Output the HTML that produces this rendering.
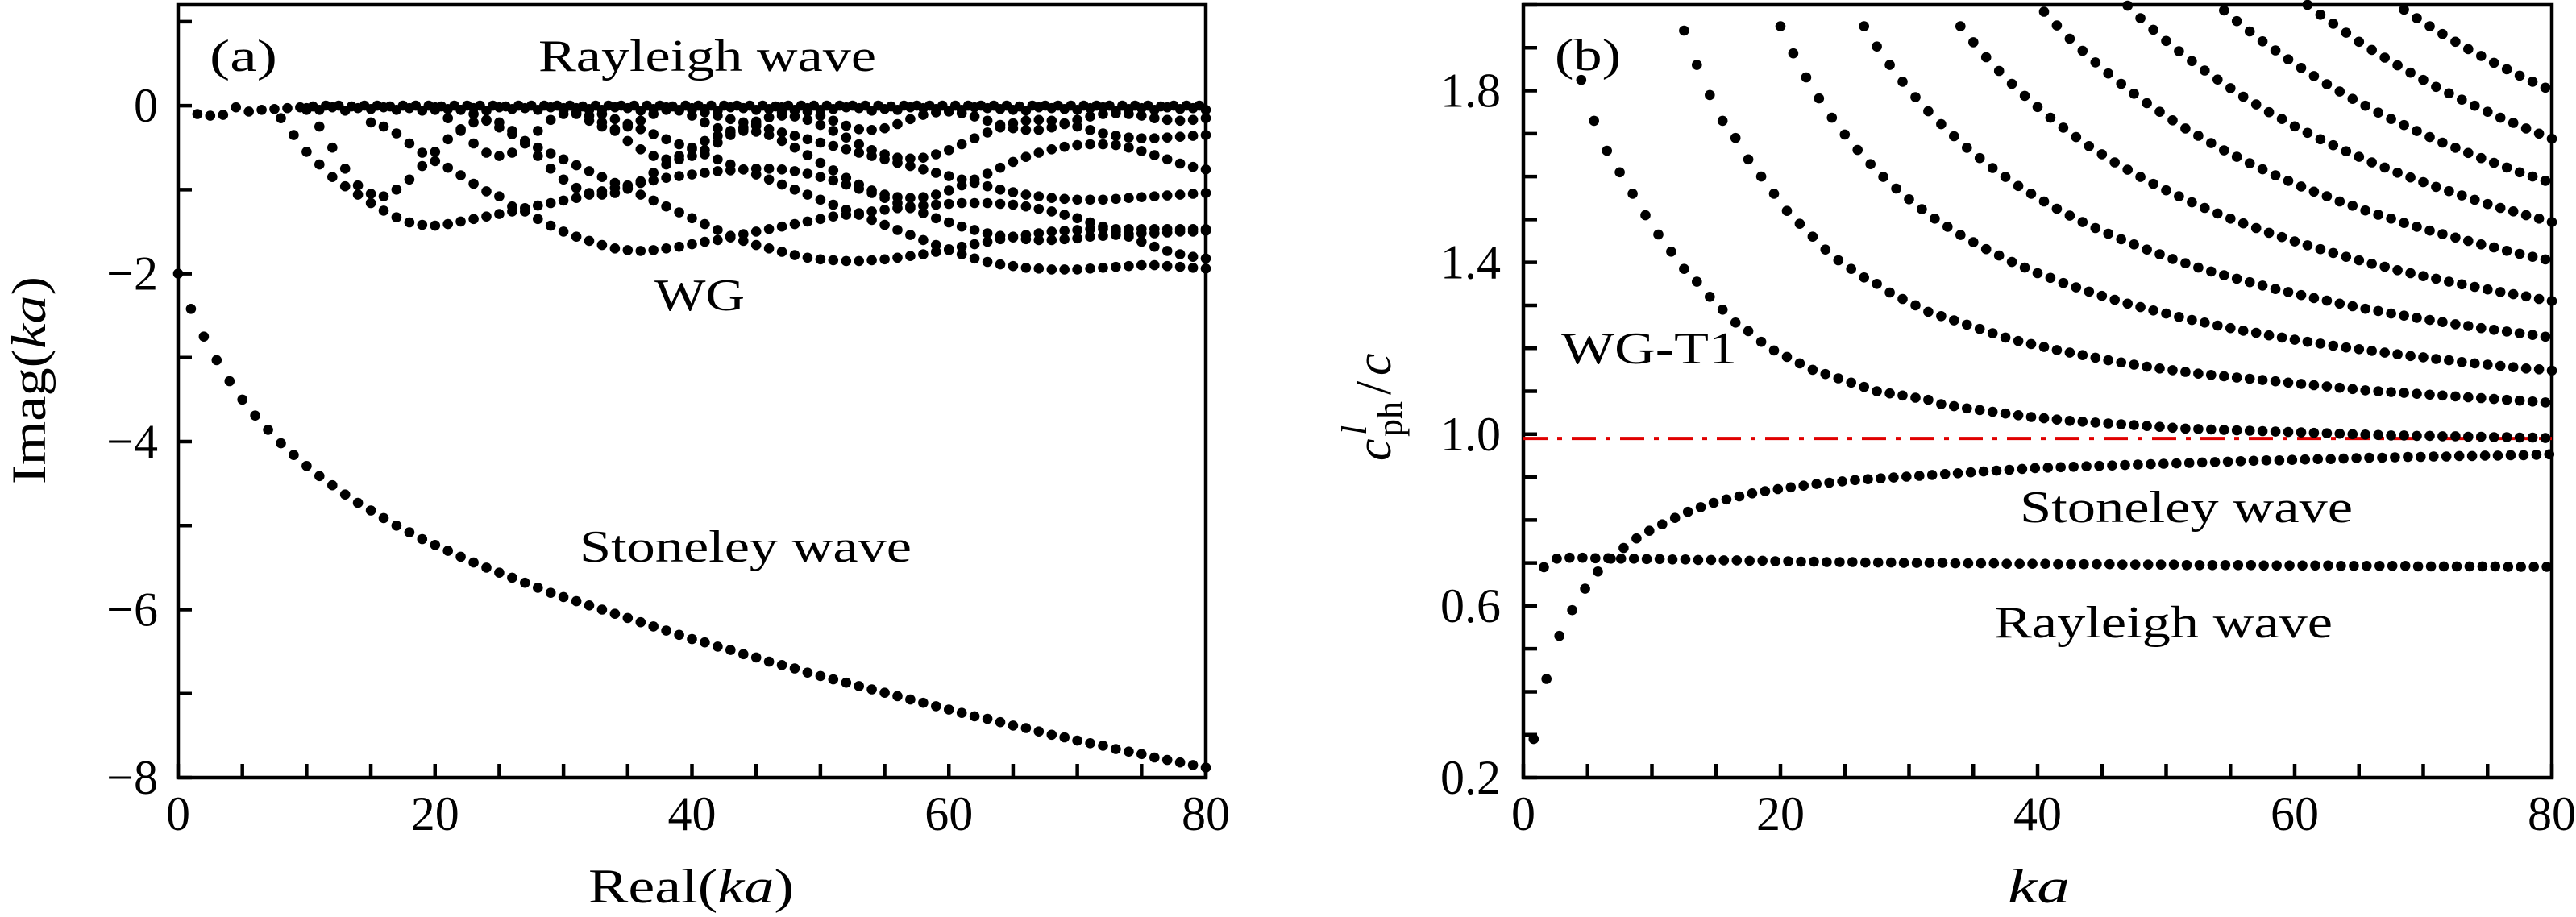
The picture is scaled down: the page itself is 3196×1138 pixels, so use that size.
<!DOCTYPE html>
<html><head><meta charset="utf-8"><style>
html,body{margin:0;padding:0;background:#fff;}
svg{display:block;}
</style></head><body>
<svg id="fig" width="3196" height="1138" viewBox="0 0 3196 1138" xmlns="http://www.w3.org/2000/svg" font-family="'Liberation Serif', 'DejaVu Serif', serif">
<g id="pa"></g>
<g id="pb"></g>
</svg>
<script>
// ---------- Panel (a) data ----------
const aXTicks = [0, 20, 40, 60, 80];
const aYTicks = [0, -2, -4, -6, -8];
const aYTickLabels = ["0", "\u22122", "\u22124", "\u22126", "\u22128"];
const stoneleyA = [-2.00,-2.42,-2.75,-3.03,-3.28,-3.50,-3.69,-3.86,-4.02,-4.16,-4.29,-4.41,-4.52,-4.63,-4.73,-4.82,-4.91,-5.00,-5.08,-5.16,-5.23,-5.30,-5.37,-5.44,-5.50,-5.56,-5.62,-5.68,-5.74,-5.80,-5.85,-5.90,-5.95,-6.00,-6.05,-6.10,-6.15,-6.20,-6.25,-6.30,-6.35,-6.39,-6.44,-6.48,-6.53,-6.57,-6.62,-6.66,-6.70,-6.75,-6.79,-6.83,-6.87,-6.91,-6.95,-6.99,-7.03,-7.07,-7.11,-7.15,-7.19,-7.23,-7.27,-7.30,-7.34,-7.38,-7.41,-7.45,-7.49,-7.52,-7.56,-7.59,-7.62,-7.66,-7.69,-7.72,-7.76,-7.79,-7.82,-7.85,-7.88];
const stoneleyAStart = 0;
const rayleighA = [-0.10,-0.12,-0.11,-0.02,-0.07,-0.05,-0.04,-0.03,-0.02,-0.01,0,0,-0.01,0,0,-0.01,0,0,0,-0.01,0,0,0,0,-0.01,0,0,0,0,0,-0.01,0,0,0,0,0,0,-0.01,0,0,0,0,0,0,0,-0.01,0,0,0,0,0,0,0,0,-0.01,0,0,0,0,0,0,0,0,0,-0.01,0,0,0,0,0,0,0,0,0,0,-0.01,0,0,0];
const rayleighAStart = 1.5;
const rayleighA2 = [-0.03,-0.05,-0.02,-0.06,-0.03,-0.04,-0.02,-0.05,-0.03,-0.06,-0.02,-0.04,-0.05,-0.03,-0.06,-0.02,-0.04,-0.03,-0.05,-0.02,-0.06,-0.03,-0.04,-0.05,-0.02,-0.03,-0.06,-0.04,-0.02,-0.05,-0.03,-0.04,-0.06,-0.02,-0.03,-0.05,-0.04,-0.02,-0.06,-0.03,-0.05,-0.04,-0.02,-0.03,-0.06,-0.04,-0.05,-0.02,-0.03,-0.04,-0.06,-0.05,-0.02,-0.03,-0.04,-0.05,-0.06,-0.02,-0.03,-0.04,-0.05,-0.03,-0.02,-0.06,-0.04,-0.03,-0.05,-0.02,-0.04,-0.03,-0.05];
const rayleighA2Start = 10;
const wgA1 = [-0.15,-0.35,-0.55,-0.70,-0.85,-0.96,-1.06,-1.16,-1.25,-1.33,-1.39,-1.42,-1.43,-1.41,-1.38,-1.35,-1.32,-1.29,-1.26,-1.22,-1.19,-1.16,-1.13,-1.10,-1.06,-1.02,-0.98,-0.95,-0.92,-0.89,-0.86,-0.84,-0.82,-0.80,-0.78,-0.77,-0.76,-0.75,-0.75,-0.76,-0.78,-0.81,-0.85,-0.89,-0.94,-0.99,-1.04,-1.10,-1.16,-1.22,-1.28,-1.34,-1.39,-1.44,-1.48,-1.52,-1.55,-1.57,-1.59,-1.60,-1.60,-1.59,-1.58,-1.56,-1.55,-1.54,-1.53,-1.52,-1.52,-1.51,-1.50,-1.50,-1.49];
const wgA1Start = 8;
const wgA2 = [-0.20,-0.25,-0.33,-0.45,-0.56,-0.66,-0.74,-0.83,-0.93,-1.02,-1.08,-1.20,-1.26,-1.35,-1.43,-1.50,-1.56,-1.61,-1.66,-1.70,-1.72,-1.73,-1.72,-1.70,-1.68,-1.65,-1.62,-1.60,-1.57,-1.53,-1.50,-1.47,-1.44,-1.41,-1.38,-1.35,-1.32,-1.30,-1.28,-1.26,-1.24,-1.22,-1.20,-1.19,-1.18,-1.17,-1.16,-1.16,-1.16,-1.17,-1.18,-1.20,-1.23,-1.26,-1.30,-1.34,-1.39,-1.44,-1.50,-1.56,-1.62,-1.68,-1.73,-1.77,-1.80,-1.82];
const wgA2Start = 15;
const wgA3 = [-0.05,-0.10,-0.18,-0.26,-0.34,-0.42,-0.50,-0.57,-0.64,-0.71,-0.78,-0.85,-0.92,-0.99,-1.06,-1.13,-1.20,-1.27,-1.34,-1.41,-1.48,-1.55,-1.61,-1.66,-1.70,-1.74,-1.78,-1.81,-1.83,-1.84,-1.85,-1.85,-1.84,-1.83,-1.81,-1.79,-1.77,-1.74,-1.71,-1.68,-1.65,-1.62,-1.59,-1.56,-1.54,-1.52,-1.50,-1.49,-1.48,-1.47,-1.47,-1.47,-1.47,-1.47,-1.47,-1.47,-1.47,-1.47,-1.47];
const wgA3Start = 22;
const wgA4 = [-0.05,-0.10,-0.16,-0.22,-0.28,-0.34,-0.40,-0.46,-0.52,-0.58,-0.64,-0.70,-0.76,-0.82,-0.88,-0.94,-1.00,-1.06,-1.12,-1.18,-1.24,-1.30,-1.36,-1.42,-1.48,-1.54,-1.60,-1.66,-1.72,-1.77,-1.82,-1.86,-1.89,-1.91,-1.93,-1.94,-1.95,-1.95,-1.95,-1.94,-1.93,-1.92,-1.91,-1.90,-1.90,-1.91,-1.92,-1.93,-1.94];
const wgA4Start = 32;
const wgA5 = [-0.05,-0.08,-0.12,-0.16,-0.20,-0.24,-0.28,-0.32,-0.36,-0.40,-0.44,-0.48,-0.52,-0.56,-0.60,-0.64,-0.68,-0.72,-0.76,-0.80,-0.84,-0.88,-0.92,-0.96,-1.00,-1.03,-1.06,-1.08,-1.10,-1.11,-1.12,-1.12,-1.12,-1.11,-1.10,-1.09,-1.08,-1.07,-1.06,-1.05,-1.04];
const wgA5Start = 40;
const wgA6 = [-0.05,-0.25,-0.50,-0.75,-0.95,-1.05,-1.08,-1.00,-0.88,-0.72,-0.55,-0.40,-0.28,-0.20,-0.17,-0.20,-0.30,-0.45,-0.60,-0.75,-0.88,-0.98,-1.04,-1.06,-1.04,-0.98,-0.90,-0.80,-0.70,-0.60,-0.50,-0.42,-0.36,-0.32,-0.30,-0.31,-0.35,-0.42,-0.50,-0.59,-0.68,-0.77,-0.86,-0.94,-1.01,-1.06,-1.09,-1.10,-1.09,-1.06,-1.01,-0.95,-0.88,-0.81,-0.74,-0.67,-0.61,-0.56,-0.52,-0.49,-0.47,-0.46,-0.46,-0.47,-0.50,-0.54,-0.59,-0.64,-0.69,-0.73,-0.76];
const wgA6Start = 10;
const wgA7 = [-0.05,-0.15,-0.30,-0.45,-0.56,-0.60,-0.56,-0.45,-0.30,-0.17,-0.10,-0.08,-0.12,-0.20,-0.30,-0.42,-0.52,-0.60,-0.64,-0.64,-0.60,-0.53,-0.44,-0.35,-0.26,-0.19,-0.14,-0.12,-0.13,-0.17,-0.23,-0.30,-0.38,-0.46,-0.53,-0.58,-0.62,-0.63,-0.62,-0.58,-0.53,-0.46,-0.39,-0.32,-0.26,-0.21,-0.18,-0.17,-0.18,-0.21,-0.25,-0.29,-0.33,-0.36,-0.38,-0.39,-0.39,-0.38,-0.37,-0.36,-0.35];
const wgA7Start = 20;
const wgA8 = [-0.03,-0.10,-0.18,-0.25,-0.28,-0.25,-0.18,-0.10,-0.05,-0.06,-0.12,-0.20,-0.27,-0.30,-0.28,-0.22,-0.14,-0.08,-0.05,-0.07,-0.12,-0.18,-0.24,-0.28,-0.29,-0.27,-0.22,-0.16,-0.11,-0.08,-0.07,-0.09,-0.13,-0.18,-0.23,-0.27,-0.29,-0.29,-0.26,-0.22,-0.17,-0.13,-0.10,-0.09,-0.10,-0.12,-0.15,-0.17,-0.18,-0.17,-0.15];
const wgA8Start = 30;

// ---------- Panel (b) data ----------
const bXTicks = [0, 20, 40, 60, 80];
const bYTicks = [0.2, 0.6, 1.0, 1.4, 1.8];
const bYTickLabels = ["0.2", "0.6", "1.0", "1.4", "1.8"];
const refLineB = 0.99;
const stoneleyB = [0.29,0.43,0.53,0.59,0.64,0.68,0.71,0.735,0.757,0.775,0.79,0.805,0.819,0.83,0.84,0.848,0.855,0.862,0.867,0.872,0.876,0.88,0.884,0.887,0.89,0.893,0.895,0.897,0.899,0.901,0.903,0.905,0.907,0.909,0.911,0.913,0.915,0.917,0.919,0.921,0.922,0.923,0.924,0.925,0.926,0.927,0.928,0.929,0.930,0.931,0.932,0.933,0.934,0.935,0.936,0.937,0.938,0.939,0.939,0.94,0.941,0.942,0.942,0.943,0.944,0.945,0.945,0.946,0.947,0.947,0.948,0.948,0.949,0.949,0.95,0.95,0.951,0.951,0.952,0.953];
const stoneleyBStart = 0.8;
const rayleighB = [0.69,0.71,0.712,0.712,0.711,0.711,0.71,0.71,0.709,0.709,0.708,0.708,0.707,0.707,0.706,0.706,0.705,0.705,0.704,0.704,0.703,0.703,0.702,0.702,0.702,0.701,0.701,0.701,0.70,0.70,0.70,0.70,0.699,0.699,0.699,0.699,0.698,0.698,0.698,0.698,0.697,0.697,0.697,0.697,0.697,0.696,0.696,0.696,0.696,0.696,0.695,0.695,0.695,0.695,0.695,0.695,0.694,0.694,0.694,0.694,0.694,0.694,0.693,0.693,0.693,0.693,0.693,0.693,0.692,0.692,0.692,0.692,0.692,0.692,0.692,0.691,0.691,0.691,0.691];
const rayleighBStart = 1.6;
const wgB1 = [1.825,1.73,1.66,1.61,1.56,1.51,1.465,1.425,1.385,1.355,1.32,1.29,1.26,1.24,1.215,1.195,1.18,1.165,1.15,1.14,1.13,1.12,1.11,1.10,1.095,1.09,1.085,1.08,1.07,1.065,1.06,1.056,1.052,1.048,1.044,1.04,1.037,1.034,1.031,1.029,1.027,1.025,1.023,1.021,1.019,1.017,1.015,1.013,1.012,1.011,1.010,1.009,1.008,1.007,1.006,1.005,1.004,1.003,1.002,1.001,1.0,0.999,0.998,0.997,0.997,0.996,0.996,0.995,0.995,0.994,0.994,0.993,0.993,0.992,0.992,0.991];
const wgB1Start = 4.5;
const wgB2 = [1.94,1.86,1.79,1.73,1.69,1.64,1.60,1.56,1.52,1.49,1.46,1.43,1.405,1.385,1.365,1.35,1.33,1.315,1.30,1.285,1.275,1.265,1.255,1.245,1.235,1.225,1.217,1.21,1.203,1.196,1.19,1.184,1.178,1.172,1.167,1.162,1.157,1.153,1.149,1.145,1.141,1.138,1.135,1.132,1.129,1.126,1.123,1.12,1.117,1.114,1.111,1.108,1.105,1.102,1.10,1.098,1.096,1.094,1.092,1.09,1.088,1.086,1.084,1.082,1.08,1.078,1.076,1.074];
const wgB2Start = 12.5;
const wgB3 = [1.95,1.887,1.831,1.782,1.737,1.698,1.662,1.629,1.599,1.572,1.547,1.524,1.502,1.483,1.464,1.447,1.431,1.416,1.401,1.388,1.375,1.364,1.352,1.342,1.332,1.322,1.313,1.304,1.296,1.288,1.281,1.273,1.266,1.260,1.253,1.247,1.241,1.236,1.230,1.225,1.220,1.215,1.211,1.206,1.202,1.198,1.194,1.190,1.186,1.182,1.179,1.175,1.172,1.168,1.165,1.162,1.159,1.156,1.153,1.151,1.148];
const wgB3Start = 20;
const wgB4 = [1.95,1.903,1.860,1.821,1.785,1.752,1.722,1.694,1.667,1.643,1.620,1.599,1.578,1.560,1.542,1.525,1.509,1.494,1.480,1.467,1.454,1.442,1.430,1.419,1.408,1.398,1.388,1.379,1.370,1.362,1.354,1.346,1.338,1.331,1.324,1.317,1.311,1.304,1.298,1.292,1.287,1.281,1.276,1.271,1.266,1.261,1.256,1.252,1.247,1.243,1.239,1.235,1.231,1.227];
const wgB4Start = 26.5;
const wgB5 = [1.95,1.913,1.878,1.846,1.816,1.788,1.762,1.737,1.714,1.692,1.671,1.652,1.633,1.616,1.599,1.583,1.568,1.554,1.540,1.527,1.514,1.502,1.491,1.480,1.469,1.459,1.449,1.440,1.431,1.422,1.413,1.405,1.397,1.390,1.382,1.375,1.368,1.362,1.355,1.349,1.343,1.337,1.331,1.326,1.321,1.315,1.310];
const wgB5Start = 34;
const wgB6 = [1.984,1.952,1.921,1.893,1.866,1.840,1.816,1.793,1.771,1.751,1.731,1.712,1.695,1.678,1.661,1.646,1.631,1.617,1.603,1.590,1.577,1.565,1.554,1.542,1.532,1.521,1.511,1.502,1.492,1.483,1.474,1.466,1.458,1.450,1.442,1.435,1.427,1.420,1.413,1.407];
const wgB6Start = 40.5;
const wgB7 = [1.998,1.969,1.942,1.916,1.892,1.869,1.847,1.826,1.806,1.786,1.768,1.750,1.734,1.717,1.702,1.687,1.673,1.659,1.646,1.633,1.621,1.609,1.598,1.587,1.576,1.566,1.556,1.546,1.536,1.527,1.519,1.510,1.502,1.494];
const wgB7Start = 47;
const wgB8 = [1.987,1.962,1.938,1.915,1.894,1.873,1.853,1.834,1.815,1.798,1.781,1.765,1.749,1.734,1.720,1.706,1.692,1.679,1.667,1.655,1.643,1.632,1.621,1.610,1.600,1.590];
const wgB8Start = 54.5;
const wgB9 = [2.000,1.977,1.956,1.935,1.914,1.895,1.877,1.859,1.842,1.825,1.809,1.794,1.779,1.765,1.751,1.737,1.725,1.712,1.700,1.688];
const wgB9Start = 61;
const wgB10 = [1.989,1.969,1.950,1.932,1.914,1.897,1.881,1.865,1.850,1.835,1.821,1.807];
const wgB10Start = 68.5;

// ---------- rendering ----------
const NS = "http://www.w3.org/2000/svg";
const A = {x0: 221, x1: 1496, yTop: 6, yBot: 965, xmin: 0, xmax: 80, ymin: -8, ymax: 1.2};
const B = {x0: 1890, x1: 3166, yTop: 6, yBot: 965, xmin: 0, xmax: 80, ymin: 0.2, ymax: 2.0};
function sx(P, v) { return P.x0 + (v - P.xmin) / (P.xmax - P.xmin) * (P.x1 - P.x0); }
function sy(P, v) { return P.yBot - (v - P.ymin) / (P.ymax - P.ymin) * (P.yBot - P.yTop); }
function mk(tag, attrs, parent) {
  const e = document.createElementNS(NS, tag);
  for (const k in attrs) e.setAttribute(k, attrs[k]);
  parent.appendChild(e);
  return e;
}
function series(P, g, name, start, ys) {
  const sg = mk('g', {}, g);
  
  
  ys.forEach((v, i) => {
    const c = mk('circle', {cx: sx(P, start + i).toFixed(1), cy: sy(P, v).toFixed(1), r: 6.3, fill: '#000'}, sg);
    
    
  });
}
function txt(g, s, x, y, size, anchor, name, width, extra) {
  const t = mk('text', {x: x, y: y, 'font-size': size, 'text-anchor': anchor, fill: '#000'}, g);
  t.textContent = s;
  if (width) { t.setAttribute('textLength', width); t.setAttribute('lengthAdjust', 'spacingAndGlyphs'); }
  if (extra) for (const k in extra) t.setAttribute(k, extra[k]);
  
  
  return t;
}
function frame(P, g, xMinorStep, yMinorStep, yMinorFrom) {
  const ax = mk('g', {stroke: '#000', 'stroke-width': 4.5, fill: 'none'}, g);
  
  
  mk('rect', {x: P.x0, y: P.yTop, width: P.x1 - P.x0, height: P.yBot - P.yTop}, ax);
  for (let v = P.xmin; v <= P.xmax + 1e-9; v += xMinorStep) {
    const x = sx(P, v);
    mk('line', {x1: x, y1: P.yBot, x2: x, y2: P.yBot - 17}, ax);
  }
  for (let v = yMinorFrom; v <= P.ymax + 1e-9; v += yMinorStep) {
    const y = sy(P, v);
    mk('line', {x1: P.x0, y1: y, x2: P.x0 + 17, y2: y}, ax);
  }
}

// Panel A
const ga = document.getElementById('pa');
frame(A, ga, 5, 1, -8);
[[rayleighA, rayleighAStart, 'rayleigh-series-a'], [rayleighA2, rayleighA2Start, 'rayleigh-band-a'],
 [wgA1, wgA1Start, 'wg-mode-1'], [wgA2, wgA2Start, 'wg-mode-2'], [wgA3, wgA3Start, 'wg-mode-3'],
 [wgA4, wgA4Start, 'wg-mode-4'], [wgA5, wgA5Start, 'wg-mode-5'], [wgA6, wgA6Start, 'wg-mode-6'],
 [wgA7, wgA7Start, 'wg-mode-7'], [wgA8, wgA8Start, 'wg-mode-8'],
 [stoneleyA, stoneleyAStart, 'stoneley-series-a']].forEach(s => series(A, ga, s[2], s[1], s[0]));
aXTicks.forEach(v => txt(ga, String(v), sx(A, v), 1030, 60, 'middle', 'x-tick-label'));
aYTicks.forEach((v, i) => txt(ga, aYTickLabels[i], 196, sy(A, v) + 20, 60, 'end', 'y-tick-label'));
txt(ga, '(a)', 260, 88, 56, 'start', 'panel-label-a', 84);
txt(ga, 'Rayleigh wave', 668, 88, 56, 'start', 'annotation-rayleigh-a', 419);
txt(ga, 'WG', 812, 385, 56, 'start', 'annotation-wg', 112);
txt(ga, 'Stoneley wave', 719, 697, 56, 'start', 'annotation-stoneley-a', 412);
(function(){
  const t = txt(ga, '', 730, 1120, 60, 'start', 'x-axis-title-a', 255);
  t.innerHTML = 'Real(<tspan font-style="italic">ka</tspan>)';
  const y = txt(ga, '', 0, 0, 60, 'middle', 'y-axis-title-a', 258, {transform: 'translate(56,472) rotate(-90)'});
  y.innerHTML = 'Imag(<tspan font-style="italic">ka</tspan>)';
})();

// Panel B
const gb = document.getElementById('pb');
frame(B, gb, 5, 0.1, 0.2);
const red = mk('line', {x1: B.x0, x2: B.x1, y1: sy(B, refLineB), y2: sy(B, refLineB), stroke: '#e00000', 'stroke-width': 4, 'stroke-dasharray': '30,12,6,12'}, gb);


[[rayleighB, rayleighBStart, 'rayleigh-series-b'], [stoneleyB, stoneleyBStart, 'stoneley-series-b'],
 [wgB1, wgB1Start, 'wg-t1-mode-1'], [wgB2, wgB2Start, 'wg-t1-mode-2'], [wgB3, wgB3Start, 'wg-t1-mode-3'],
 [wgB4, wgB4Start, 'wg-t1-mode-4'], [wgB5, wgB5Start, 'wg-t1-mode-5'], [wgB6, wgB6Start, 'wg-t1-mode-6'],
 [wgB7, wgB7Start, 'wg-t1-mode-7'], [wgB8, wgB8Start, 'wg-t1-mode-8'], [wgB9, wgB9Start, 'wg-t1-mode-9'],
 [wgB10, wgB10Start, 'wg-t1-mode-10']].forEach(s => series(B, gb, s[2], s[1], s[0]));
bXTicks.forEach(v => txt(gb, String(v), sx(B, v), 1030, 60, 'middle', 'x-tick-label'));
bYTicks.forEach((v, i) => txt(gb, bYTickLabels[i], 1862, sy(B, v) + 20, 60, 'end', 'y-tick-label'));
txt(gb, '(b)', 1929, 87, 56, 'start', 'panel-label-b', 82);
txt(gb, 'WG-T1', 1937, 451, 56, 'start', 'annotation-wg-t1', 218);
txt(gb, 'Stoneley wave', 2506, 648, 56, 'start', 'annotation-stoneley-b', 413);
txt(gb, 'Rayleigh wave', 2474, 791, 56, 'start', 'annotation-rayleigh-b', 420);
txt(gb, 'ka', 2491, 1120, 60, 'start', 'x-axis-title-b', 77, {'font-style': 'italic'});
(function(){
  const yg = mk('g', {transform: 'translate(1725,472) rotate(-90)'}, gb);
  
  
  txt(yg, 'c', -100, 0, 62, 'start', 'y-title-c', null, {'font-style': 'italic'});
  txt(yg, 'ph', -70, 14, 44, 'start', 'y-title-sub-ph');
  txt(yg, 'l', -68, -30, 44, 'start', 'y-title-sup-l', null, {'font-style': 'italic'});
  txt(yg, '/', -18, 0, 62, 'start', 'y-title-slash');
  txt(yg, 'c', 6, 0, 62, 'start', 'y-title-c2', null, {'font-style': 'italic'});
})();
</script>
</body></html>
